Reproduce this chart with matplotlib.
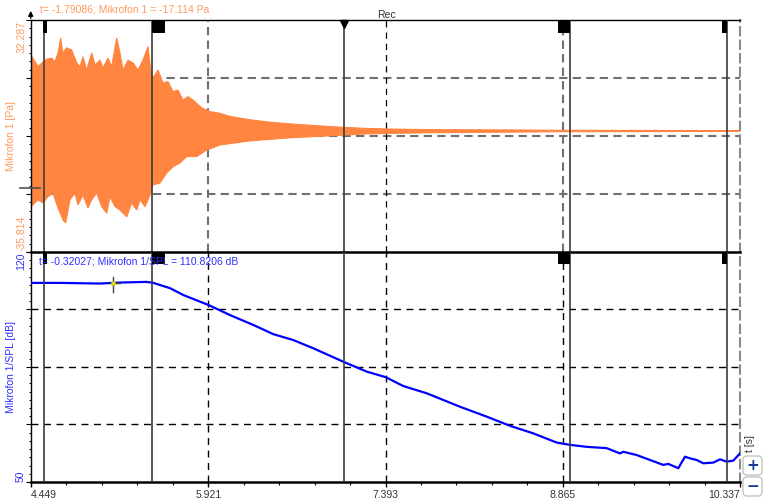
import numpy as np
import matplotlib.pyplot as plt
from matplotlib.patches import FancyBboxPatch
from matplotlib.ticker import FixedLocator

plt.rcParams['font.family'] = ['Liberation Sans', 'DejaVu Sans']

# time axis (s)
t_min, t_max = 4.449, 10.337
x_ticks = [4.449, 5.921, 7.393, 8.865, 10.337]
x_labels = ['4.449', '5.921', '7.393', '8.865', '10.337']

# Mikrofon 1 [Pa] - envelope of the waveform
pa_min, pa_max = -35.814, 32.287
upper_t = [4.449, 4.507, 4.549, 4.579, 4.621, 4.648, 4.673, 4.696, 4.712, 4.745,
           4.787, 4.829, 4.856, 4.881, 4.912, 4.953, 4.981, 5.022, 5.047, 5.088,
           5.119, 5.161, 5.188, 5.213, 5.255, 5.296, 5.338, 5.379, 5.421, 5.443,
           5.462, 5.504, 5.545, 5.587, 5.628, 5.670, 5.711, 5.753, 5.794, 5.867,
           5.935, 6.019, 6.100, 6.268, 6.430, 6.600, 6.932, 7.206, 7.406, 7.762,
           8.535, 8.842, 9.091, 10.337]
upper_pa = [22.0, 18.6, 20.0, 20.8, 21.1, 20.0, 22.6, 27.0, 22.6, 24.1,
            23.5, 19.7, 18.6, 21.5, 17.6, 22.6, 19.1, 20.5, 18.2, 21.1,
            18.6, 27.0, 22.6, 17.6, 20.5, 19.7, 17.6, 20.5, 24.5, 17.6,
            15.3, 17.6, 13.8, 14.2, 11.3, 11.7, 8.8, 9.8, 8.8, 6.5,
            5.4, 4.9, 4.0, 3.0, 2.3, 1.8, 1.0, 0.5, 0.3, 0.1,
            0.0, -0.1, -0.1, -0.2]
lower_t = [4.449, 4.507, 4.549, 4.590, 4.632, 4.673, 4.715, 4.737, 4.773, 4.814,
           4.839, 4.881, 4.922, 4.953, 4.995, 5.036, 5.078, 5.105, 5.147, 5.188,
           5.244, 5.285, 5.327, 5.354, 5.396, 5.437, 5.462, 5.520, 5.576, 5.628,
           5.686, 5.742, 5.825, 5.908, 6.019, 6.268, 6.600, 6.932, 7.206, 7.406,
           7.762, 8.535, 8.842, 9.091, 10.337]
lower_pa = [-22.5, -20.5, -21.4, -19.6, -18.5, -22.9, -26.4, -27.3, -20.5, -18.5,
            -22.0, -19.1, -22.9, -20.5, -18.5, -22.5, -24.4, -19.6, -22.5, -23.5,
            -25.5, -21.4, -23.5, -20.5, -22.5, -19.1, -16.1, -15.6, -12.6, -10.8,
            -9.7, -7.8, -7.8, -5.9, -4.4, -3.2, -2.3, -1.7, -1.2, -1.0,
            -0.8, -0.6, -0.5, -0.5, -0.4]

# Mikrofon 1/SPL [dB]
db_min, db_max = 50, 120
spl_t = [4.449, 4.690, 5.022, 5.188, 5.404, 5.456, 5.603, 5.714, 5.921, 6.102,
         6.295, 6.461, 6.627, 6.793, 7.043, 7.237, 7.395, 7.541, 7.735, 8.012,
         8.233, 8.427, 8.620, 8.815, 8.925, 9.064, 9.230, 9.340, 9.368, 9.479,
         9.590, 9.700, 9.742, 9.825, 9.880, 9.922, 9.977, 10.032, 10.115, 10.171,
         10.226, 10.281, 10.337]
spl_db = [110.6, 110.6, 110.4, 110.7, 110.9, 110.7, 109.0, 106.9, 103.9, 100.8,
          97.8, 95.0, 93.2, 90.7, 86.6, 83.6, 81.9, 79.2, 77.0, 72.9,
          69.9, 67.1, 64.8, 62.0, 61.3, 60.7, 60.3, 58.7, 59.2, 58.2,
          56.7, 55.2, 55.5, 54.2, 57.7, 57.2, 56.7, 55.7, 55.9, 56.9,
          56.2, 56.5, 58.7]

# cursors and band markers
cursor_t = [4.557, 5.454, 7.048, 8.925, 10.227]
band_marks = [(4.551, 4.582), (5.454, 5.562), (8.826, 8.925), (10.185, 10.227)]
rec_t = 7.393
readout_top = 't= -1.79086; Mikrofon 1 = -17.114 Pa'
readout_bottom = 't= -0.32027; Mikrofon 1/SPL = 110.8206 dB'
cursor_pa = -17.114
probe_t, probe_db = 5.127, 110.6

orange = '#ff8540'
orange_txt = '#ff9a5c'
blue = '#0000ff'
blue_txt = '#3030ff'
W, H = 768, 500

fig = plt.figure(figsize=(7.68, 5.0), dpi=100)
ax1 = fig.add_axes([31 / W, 248 / H, 709 / W, 232 / H])
ax2 = fig.add_axes([31 / W, 18 / H, 709 / W, 230 / H])

grid_dash = (0, (4, 2.5))

for ax in (ax1, ax2):
    ax.set_xlim(t_min, t_max)
    ax.spines['right'].set_linestyle(grid_dash)
    ax.spines['right'].set_color('#8a8a8a')
    ax.spines['right'].set_linewidth(1.5)
    ax.spines['left'].set_linewidth(1.0)
    ax.tick_params(axis='y', which='major', direction='out', length=3.5, width=0.8,
                   labelleft=False)
    ax.tick_params(axis='y', which='minor', direction='out', length=1.8, width=0.7)

# ---- top panel: waveform
ax1.set_ylim(pa_min, pa_max)
ax1.spines['bottom'].set_visible(False)
ax1.spines['top'].set_linewidth(1.0)
ax1.tick_params(axis='x', bottom=False, labelbottom=False)
ax1.yaxis.set_major_locator(FixedLocator(np.linspace(pa_min, pa_max, 5)))
ax1.yaxis.set_minor_locator(FixedLocator(np.linspace(pa_min, pa_max, 29)))

for v in np.linspace(pa_min, pa_max, 5)[1:-1]:
    ax1.axhline(v, color='#707070', ls=grid_dash, lw=1.5, zorder=1)
for t in (5.921, 8.865):
    ax1.axvline(t, color='#707070', ls=grid_dash, lw=1.5, zorder=1)
ax1.axvline(rec_t, color='black', ls=(0, (5, 4)), lw=0.9, zorder=1)

ax1.fill(upper_t + lower_t[::-1], upper_pa + lower_pa[::-1],
         color=orange, lw=0.8, zorder=2)

# ---- bottom panel: SPL
ax2.set_ylim(db_min, db_max)
ax2.spines['top'].set_linewidth(1.8)
ax2.spines['bottom'].set_linewidth(1.8)
ax2.yaxis.set_major_locator(FixedLocator(np.linspace(db_min, db_max, 5)))
ax2.yaxis.set_minor_locator(FixedLocator(np.linspace(db_min, db_max, 29)))
for v in np.linspace(db_min, db_max, 5)[1:-1]:
    ax2.axhline(v, color='black', ls=(0, (5, 4)), lw=1.0, zorder=1)
for t in x_ticks[1:-1]:
    ax2.axvline(t, color='black', ls=(0, (5, 4)), lw=1.0, zorder=1)

ax2.plot(spl_t, spl_db, color=blue, lw=1.6, zorder=3)

ax2.set_xticks(x_ticks)
ax2.set_xticklabels(x_labels, fontsize=7.5, color='#333333')
ax2.xaxis.set_minor_locator(FixedLocator(np.linspace(t_min, t_max, 21)))
ax2.tick_params(axis='x', which='major', direction='out', length=3.5, width=1.0, pad=2)
ax2.tick_params(axis='x', which='minor', direction='out', length=2.0, width=0.8)
lbls = ax2.get_xticklabels()
lbls[0].set_ha('left')
lbls[-1].set_ha('right')

# probe crosshair
ax2.plot([probe_t, probe_t], [107.9, 112.5], color='#404040', lw=1.0, zorder=6)
ax2.plot([5.105, 5.188], [probe_db, probe_db], color='#404040', lw=1.0, zorder=6)
ax2.plot(probe_t, probe_db, 'o', ms=2.5, color='#ffff40', mec='#c0c000', zorder=7)

# cursors and markers on both panels
for ax, ymin in ((ax1, 0.944), (ax2, 0.947)):
    for t in cursor_t:
        ax.axvline(t, color='#3c3c3c', lw=1.2, zorder=4)
    for a, b in band_marks:
        ax.axvspan(a, b, ymin=ymin, ymax=1, color='black', lw=0, zorder=6)

ax1.plot(7.048, 0.981, marker='v', ms=6, color='black',
         transform=ax1.get_xaxis_transform(), clip_on=False, zorder=7)
ax1.plot([-0.016, 0.012], [cursor_pa, cursor_pa], color='#505050', lw=1.2,
         transform=ax1.get_yaxis_transform(), clip_on=False, zorder=7)

# texts
def ftext(x, y, s, **kw):
    fig.text(x / W, 1 - y / H, s, **kw)

ftext(40, 9.5, readout_top, fontsize=7.5, color=orange_txt, ha='left', va='center')
ftext(39, 261, readout_bottom, fontsize=7.5, color=blue_txt, ha='left', va='center',
      zorder=5)
ftext(386, 15, 'Rec', fontsize=7.5, color='#333333', ha='center', va='center')
ftext(22, 21, '32.287', fontsize=7.5, color=orange_txt, rotation=90, ha='center', va='top')
ftext(22, 251, '-35.814', fontsize=7.5, color=orange_txt, rotation=90, ha='center', va='bottom')
ftext(11, 136, 'Mikrofon 1 [Pa]', fontsize=7.5, color=orange_txt, rotation=90,
      ha='center', va='center')
ftext(21, 253, '120', fontsize=7.5, color=blue_txt, rotation=90, ha='center', va='top')
ftext(21, 482, '50', fontsize=7.5, color=blue_txt, rotation=90, ha='center', va='bottom')
ftext(11.5, 367, 'Mikrofon 1/SPL [dB]', fontsize=7.5, color=blue_txt, rotation=90,
      ha='center', va='center')
ftext(750, 443, 't [s]', fontsize=7.5, color='#333333', rotation=90, ha='center', va='center')

# y axis arrow
fig.add_artist(plt.matplotlib.patches.FancyArrowPatch(
    (30.7 / W, 1 - 21 / H), (30.7 / W, 1 - 8 / H), transform=fig.transFigure,
    arrowstyle='-|>', mutation_scale=7, color='black', lw=1.0))

# zoom buttons
for y0, sym in ((456, '+'), (477, '\u2212')):
    fig.add_artist(FancyBboxPatch((743 / 100, (H - y0 - 19) / 100), 0.19, 0.19,
                                  boxstyle='round,pad=0,rounding_size=0.04',
                                  transform=fig.dpi_scale_trans, fc='white',
                                  ec='#c4c4c4', lw=1.0))
    ftext(752.5, y0 + 9.5, sym, fontsize=11, fontweight='bold', color='#1a3a9a',
          ha='center', va='center', family='DejaVu Sans')

fig.savefig('out.png', dpi=100)
